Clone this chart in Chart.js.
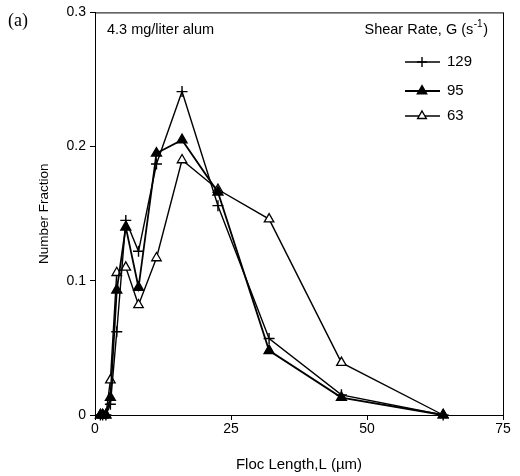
<!DOCTYPE html>
<html>
<head>
<meta charset="utf-8">
<script src="https://cdn.jsdelivr.net/npm/chart.js@4.4.1/dist/chart.umd.min.js"></script>
<style>
  html, body { margin: 0; padding: 0; background: #fff; }
  #wrap { width: 520px; height: 476px; }
</style>
</head>
<body>
<div id="wrap"><canvas id="flocChart" width="520" height="476"></canvas></div>
<script>
// Floc length bins (um) and number fractions
const flocLength = [1, 1.41, 2, 2.83, 4, 5.66, 8, 11.3, 16, 22.6, 32, 45.3, 64];
const g129 = [0, 0, 0, 0.008, 0.062, 0.145, 0.122, 0.187, 0.241, 0.156, 0.057, 0.015, 0];
const g95  = [0, 0, 0, 0.013, 0.093, 0.140, 0.095, 0.195, 0.205, 0.166, 0.048, 0.013, 0];
const g63  = [0, 0, 0, 0.026, 0.106, 0.110, 0.082, 0.117, 0.190, 0.168, 0.146, 0.039, 0];
const seriesLabels = ['129', '95', '63'];
const xTicks = [0, 25, 50, 75];
const yTicks = [0, 0.1, 0.2, 0.3];

const sans = '"Liberation Sans", Arial, sans-serif';

function toPoints(ys) {
    return ys.map((y, i) => ({ x: flocLength[i], y: y }));
}

// marker styles per series (plus, filled triangle, open triangle)
const markerStyles = [
    { pointStyle: 'cross', radius: 5.5, fill: '#000', width: 1.4 },
    { pointStyle: 'triangle', radius: 5.5, fill: '#000', width: 1.6 },
    { pointStyle: 'triangle', radius: 5.5, fill: '#fff', width: 1.3 }
];

// Draws the frame, the texts and the legend inside the plot
const decorations = {
    id: 'decorations',
    afterDraw(chart) {
        const { ctx, chartArea } = chart;
        ctx.save();
        ctx.strokeStyle = '#000';
        ctx.lineWidth = 1;
        ctx.strokeRect(chartArea.left + 0.5, chartArea.top + 0.5,
            chartArea.right - chartArea.left, chartArea.bottom - chartArea.top);

        ctx.fillStyle = '#000';
        ctx.font = '18px "Liberation Serif", "Times New Roman", serif';
        ctx.textBaseline = 'middle';
        ctx.textAlign = 'left';
        ctx.fillText('(a)', 8, 21);

        ctx.font = '14.5px ' + sans;
        ctx.fillText('4.3 mg/liter alum', 107, 30);

        // legend title with superscript, right aligned at x=488
        const big = '14.5px ' + sans, small = '10px ' + sans;
        ctx.font = big;
        const w1 = ctx.measureText('Shear Rate, G (s').width;
        const w3 = ctx.measureText(')').width;
        ctx.font = small;
        const w2 = ctx.measureText('-1').width + 1;
        let x0 = 488 - (w1 + w2 + w3);
        ctx.font = big;
        ctx.fillText('Shear Rate, G (s', x0, 30);
        ctx.font = small;
        ctx.fillText('-1', x0 + w1 + 0.5, 24);
        ctx.font = big;
        ctx.fillText(')', x0 + w1 + w2, 30);

        // legend entries
        const rows = [62, 91, 116];
        chart.data.datasets.forEach((ds, i) => {
            const y = rows[i];
            const m = markerStyles[i];
            ctx.beginPath();
            ctx.lineWidth = ds.borderWidth;
            ctx.strokeStyle = '#000';
            ctx.moveTo(405, y);
            ctx.lineTo(440, y);
            ctx.stroke();
            ctx.fillStyle = m.fill;
            ctx.strokeStyle = '#000';
            Chart.helpers.drawPoint(ctx, {
                pointStyle: m.pointStyle, radius: 5, rotation: 0, borderWidth: m.width
            }, 422, y);
            ctx.fillStyle = '#000';
            ctx.textAlign = 'left';
            ctx.font = '15px ' + sans;
            ctx.fillText(ds.label, 447, y);
        });
        ctx.restore();
    }
};

const datasets = [g129, g95, g63].map((ys, i) => ({
    label: seriesLabels[i],
    data: toPoints(ys),
    borderColor: '#000',
    borderWidth: i === 1 ? 1.8 : 1.4,
    pointStyle: markerStyles[i].pointStyle,
    pointRadius: markerStyles[i].radius,
    pointBackgroundColor: markerStyles[i].fill,
    pointBorderColor: '#000',
    pointBorderWidth: markerStyles[i].width,
    tension: 0,
    fill: false,
    clip: false
}));

new Chart(document.getElementById('flocChart').getContext('2d'), {
    type: 'line',
    data: { datasets: datasets },
    options: {
        responsive: false,
        animation: false,
        layout: { padding: { top: 12, right: 17, left: 0, bottom: 0 } },
        plugins: { legend: { display: false }, tooltip: { enabled: false } },
        scales: {
            x: {
                type: 'linear',
                min: 0,
                max: 75,
                afterFit(scale) { scale.height = 61; },
                afterBuildTicks(scale) { scale.ticks = xTicks.map(v => ({ value: v })); },
                grid: { drawOnChartArea: false, drawTicks: true, tickLength: 5, color: '#000' },
                border: { display: true, color: '#000', width: 1 },
                ticks: { color: '#000', font: { family: sans, size: 14 }, padding: 1 },
                title: {
                    display: true,
                    text: 'Floc Length,L (\u00B5m)',
                    color: '#000',
                    font: { family: sans, size: 15 },
                    padding: { top: 0, bottom: 2 }
                }
            },
            y: {
                type: 'linear',
                min: 0,
                max: 0.3,
                afterFit(scale) { scale.width = 95; },
                afterBuildTicks(scale) { scale.ticks = yTicks.map(v => ({ value: v })); },
                grid: { drawOnChartArea: false, drawTicks: true, tickLength: 5, color: '#000' },
                border: { display: true, color: '#000', width: 1 },
                ticks: {
                    color: '#000',
                    font: { family: sans, size: 14 },
                    padding: 4,
                    callback: v => v === 0 ? '0' : v.toFixed(1)
                },
                title: {
                    display: true,
                    text: 'Number Fraction',
                    color: '#000',
                    font: { family: sans, size: 13.5 },
                    padding: { top: 36, bottom: 0 }
                }
            }
        }
    },
    plugins: [decorations]
});
</script>
</body>
</html>
